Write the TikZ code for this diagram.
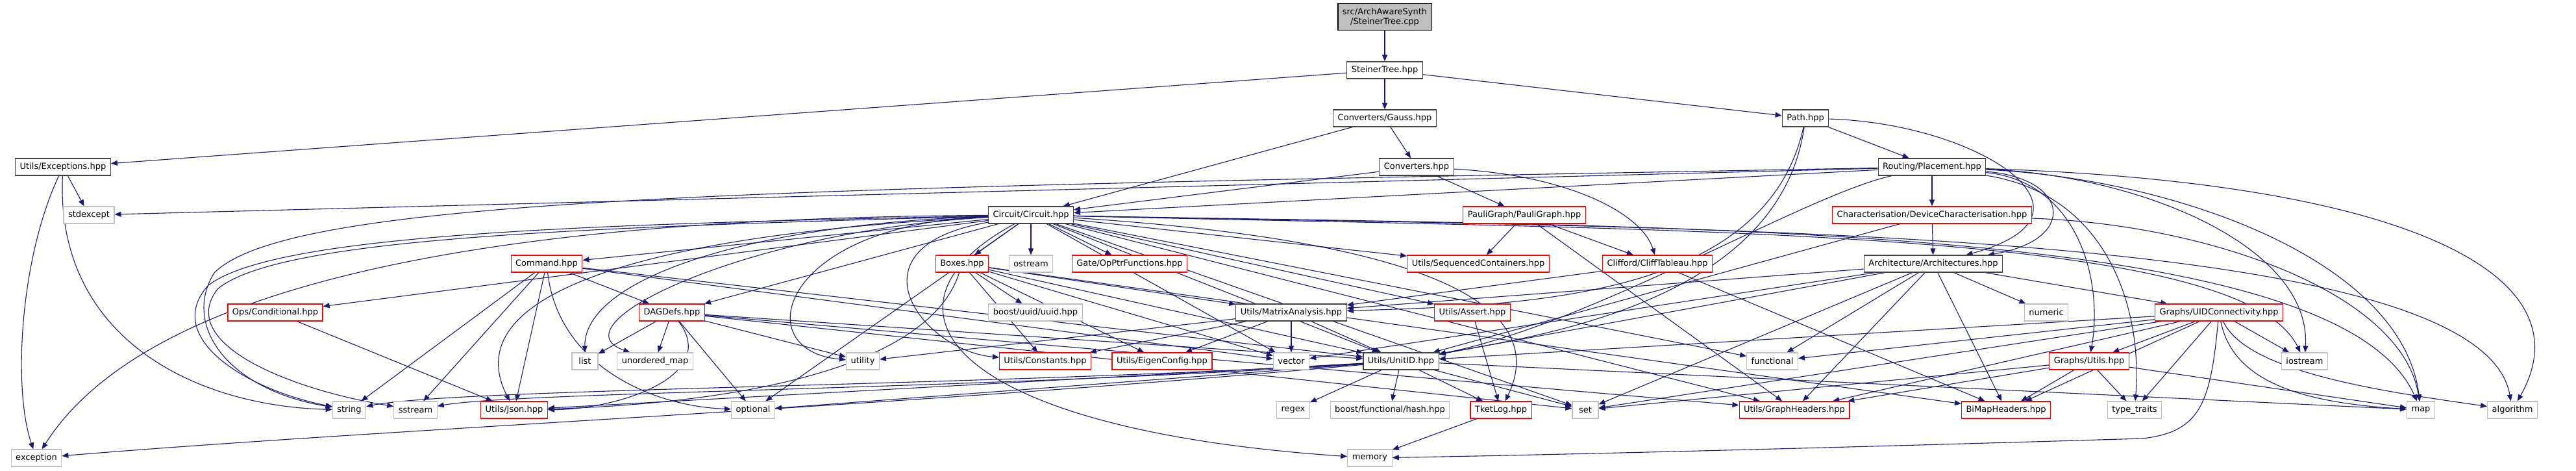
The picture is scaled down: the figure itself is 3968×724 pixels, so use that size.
\documentclass[tikz,border=0pt]{standalone}
\usepackage{fontspec}
\setmainfont{DejaVu Sans}
\usetikzlibrary{arrows.meta, backgrounds}
\definecolor{edgeblue}{HTML}{191970}
\definecolor{sysgray}{HTML}{BFBFBF}
\definecolor{truncred}{HTML}{FF0000}
\definecolor{docblack}{HTML}{404040}

\begin{document}
\begin{tikzpicture}[
    x=1pt, y=1pt,
    hdr/.style={draw=docblack,fill=white,line width=1.2pt,minimum height=26pt,minimum width=40pt,inner xsep=7pt,inner ysep=0pt,font=\fontsize{13}{15}\selectfont},
    trunchdr/.style={hdr,draw=truncred},
    syshdr/.style={hdr,draw=sysgray},
    srcfile/.style={hdr,draw=black,fill=sysgray,align=center,minimum height=41pt,inner ysep=3pt},
    dep/.style={draw=edgeblue,line width=1.1pt,-{Triangle[length=10pt,width=8pt]}}
  ]
  \useasboundingbox (0,0) rectangle (3968,-724);

  % rows 0-3
  \node[srcfile] (root) at (2133,-26) {src/ArchAwareSynth\\/SteinerTree.cpp};
  \node[hdr] (steiner) at (2133,-108) {SteinerTree.hpp};
  \node[hdr] (gauss) at (2133,-182) {Converters/Gauss.hpp};
  \node[hdr] (path) at (2781,-182) {Path.hpp};
  \node[hdr] (except) at (97,-257) {Utils/Exceptions.hpp};
  \node[hdr] (conv) at (2182,-257) {Converters.hpp};
  \node[hdr] (place) at (2976,-257) {Routing/Placement.hpp};

  % row 4
  \node[syshdr] (stdexc) at (137,-331) {stdexcept};
  \node[hdr] (circ) at (1588,-331) {Circuit/Circuit.hpp};
  \node[trunchdr] (pauli) at (2348,-331) {PauliGraph/PauliGraph.hpp};
  \node[trunchdr] (devchar) at (2976,-331) {Characterisation/DeviceCharacterisation.hpp};

  % row 5
  \node[trunchdr] (command) at (842,-406) {Command.hpp};
  \node[trunchdr] (boxes) at (1482,-406) {Boxes.hpp};
  \node[syshdr] (ostream) at (1588,-406) {ostream};
  \node[trunchdr] (opptr) at (1740,-406) {Gate/OpPtrFunctions.hpp};
  \node[trunchdr] (seqcont) at (2277,-406) {Utils/SequencedContainers.hpp};
  \node[trunchdr] (cliff) at (2553,-406) {Clifford/CliffTableau.hpp};
  \node[hdr] (arch) at (2978,-406) {Architecture/Architectures.hpp};

  % row 6
  \node[trunchdr] (cond) at (424,-481) {Ops/Conditional.hpp};
  \node[trunchdr] (dagdefs) at (1035,-481) {DAGDefs.hpp};
  \node[syshdr] (uuid) at (1595,-481) {boost/uuid/uuid.hpp};
  \node[hdr] (matrix) at (1989,-481) {Utils/MatrixAnalysis.hpp};
  \node[trunchdr] (assert) at (2268,-481) {Utils/Assert.hpp};
  \node[syshdr] (numeric) at (3152,-481) {numeric};
  \node[trunchdr] (uidconn) at (3418,-481) {Graphs/UIDConnectivity.hpp};

  % row 7
  \node[syshdr] (list) at (901,-556) {list};
  \node[syshdr] (umap) at (1009,-556) {unordered\_map};
  \node[syshdr] (utility) at (1329,-556) {utility};
  \node[trunchdr] (consts) at (1610,-556) {Utils/Constants.hpp};
  \node[trunchdr] (eigen) at (1790,-556) {Utils/EigenConfig.hpp};
  \node[syshdr] (vector) at (1989,-556) {vector};
  \node[hdr] (unitid) at (2158,-556) {Utils/UnitID.hpp};
  \node[syshdr] (functional) at (2730,-556) {functional};
  \node[trunchdr] (gutils) at (3218,-556) {Graphs/Utils.hpp};
  \node[syshdr] (iostream) at (3550,-556) {iostream};

  % row 8
  \node[syshdr] (string) at (538,-631) {string};
  \node[syshdr] (sstream) at (640,-631) {sstream};
  \node[trunchdr] (json) at (792,-631) {Utils/Json.hpp};
  \node[syshdr] (optional) at (1160,-631) {optional};
  \node[syshdr] (regex) at (1992,-631) {regex};
  \node[syshdr] (hash) at (2141,-631) {boost/functional/hash.hpp};
  \node[trunchdr] (tketlog) at (2312,-631) {TketLog.hpp};
  \node[syshdr] (set) at (2442,-631) {set};
  \node[trunchdr] (gheaders) at (2764,-631) {Utils/GraphHeaders.hpp};
  \node[trunchdr] (bimap) at (3090,-631) {BiMapHeaders.hpp};
  \node[syshdr] (ttraits) at (3288,-631) {type\_traits};
  \node[syshdr] (map) at (3729,-631) {map};
  \node[syshdr] (algorithm) at (3870,-631) {algorithm};

  % row 9
  \node[syshdr] (exception) at (56,-705) {exception};
  \node[syshdr] (memory) at (2110,-705) {memory};

  \begin{pgfonlayer}{background}
  % straight includes
  \foreach \a/\b in {root/steiner, steiner/gauss, steiner/path, steiner/except, gauss/conv, gauss/circ,
      conv/circ, conv/pauli, path/place, place/devchar, place/circ, place/stdexc, except/stdexc,
      devchar/arch, devchar/unitid, pauli/seqcont, pauli/cliff, pauli/gheaders, cliff/matrix, cliff/bimap,
      circ/command, circ/boxes, circ/ostream, circ/opptr, circ/seqcont, circ/cond, circ/dagdefs, circ/assert,
      circ/vector, circ/unitid, circ/set, circ/gheaders, circ/functional, circ/optional,
      command/dagdefs, command/json, command/string, command/sstream, command/unitid, command/vector,
      cond/json, dagdefs/list, dagdefs/umap, dagdefs/utility, dagdefs/optional, dagdefs/unitid,
      dagdefs/gheaders, dagdefs/set, boxes/uuid, boxes/matrix, boxes/consts, boxes/eigen, boxes/vector,
      boxes/unitid, boxes/bimap, matrix/consts, matrix/eigen, matrix/vector, matrix/unitid, matrix/utility,
      assert/tketlog, unitid/regex, unitid/hash, unitid/tketlog, unitid/set, unitid/json, unitid/optional,
      unitid/map, tketlog/memory, arch/numeric, arch/uidconn, arch/bimap, arch/matrix, arch/unitid,
      arch/vector, arch/set, arch/functional, arch/gheaders, uidconn/functional, uidconn/iostream,
      uidconn/ttraits, uidconn/gutils, uidconn/gheaders, uidconn/bimap, uidconn/set, uidconn/unitid,
      gutils/gheaders, gutils/bimap, gutils/ttraits, gutils/set, gutils/map}
    \draw[dep] (\a) -- (\b);

  % curved includes
  \foreach \a/\px/\py/\qx/\qy/\b in {circ/900/-335/250/-400/exception, circ/1330/-470/1450/-660/memory,
      circ/2600/-350/3600/-340/map, circ/2600/-352/3820/-345/algorithm, circ/2600/-355/3450/-350/iostream,
      circ/1150/-345/900/-430/list, circ/1150/-355/850/-500/umap, circ/1200/-345/1150/-540/utility,
      circ/1300/-380/1420/-540/consts, circ/1000/-360/700/-450/json, circ/2200/-370/2390/-470/tketlog,
      place/3190/-275/3200/-370/arch, path/3050/-190/3260/-330/arch, conv/2420/-270/2530/-330/cliff,
      place/3200/-280/3240/-430/gutils, place/3350/-275/3700/-400/map, place/3700/-280/3990/-420/algorithm,
      place/3300/-270/3560/-380/iostream, place/3250/-300/3300/-480/ttraits, except/30/-400/20/-600/exception,
      except/85/-520/300/-625/string, uidconn/3440/-590/3550/-620/map, uidconn/3460/-570/3650/-600/algorithm,
      dagdefs/1110/-580/950/-630/json, command/860/-560/1000/-625/optional, boxes/1420/-600/1000/-625/json,
      path/2720/-460/2350/-470/matrix, path/2740/-470/2350/-520/unitid, place/2780/-300/2450/-500/unitid,
      devchar/3400/-345/3700/-450/map, unitid/1500/-595/700/-598/string, unitid/1500/-600/800/-603/sstream,
      unitid/1400/-625/600/-660/exception}
    \draw[dep] (\a) .. controls (\px,\py) and (\qx,\qy) .. (\b);

  % loops round the left of Ops/Conditional.hpp
  \draw[dep] (circ) .. controls (900,-345) and (420,-360) .. (320,-440)
    .. controls (250,-520) and (380,-600) .. (string);
  \draw[dep] (circ) .. controls (900,-350) and (430,-365) .. (335,-445)
    .. controls (270,-530) and (450,-600) .. (sstream);
  \draw[dep] (place) .. controls (1200,-290) and (450,-300) .. (330,-420)
    .. controls (280,-500) and (350,-600) .. (string);
  \draw[dep] (uidconn) .. controls (3405,-620) and (3390,-665) .. (3300,-675)
    .. controls (2800,-690) and (2400,-700) .. (memory);
  \end{pgfonlayer}
\end{tikzpicture}
\end{document}
